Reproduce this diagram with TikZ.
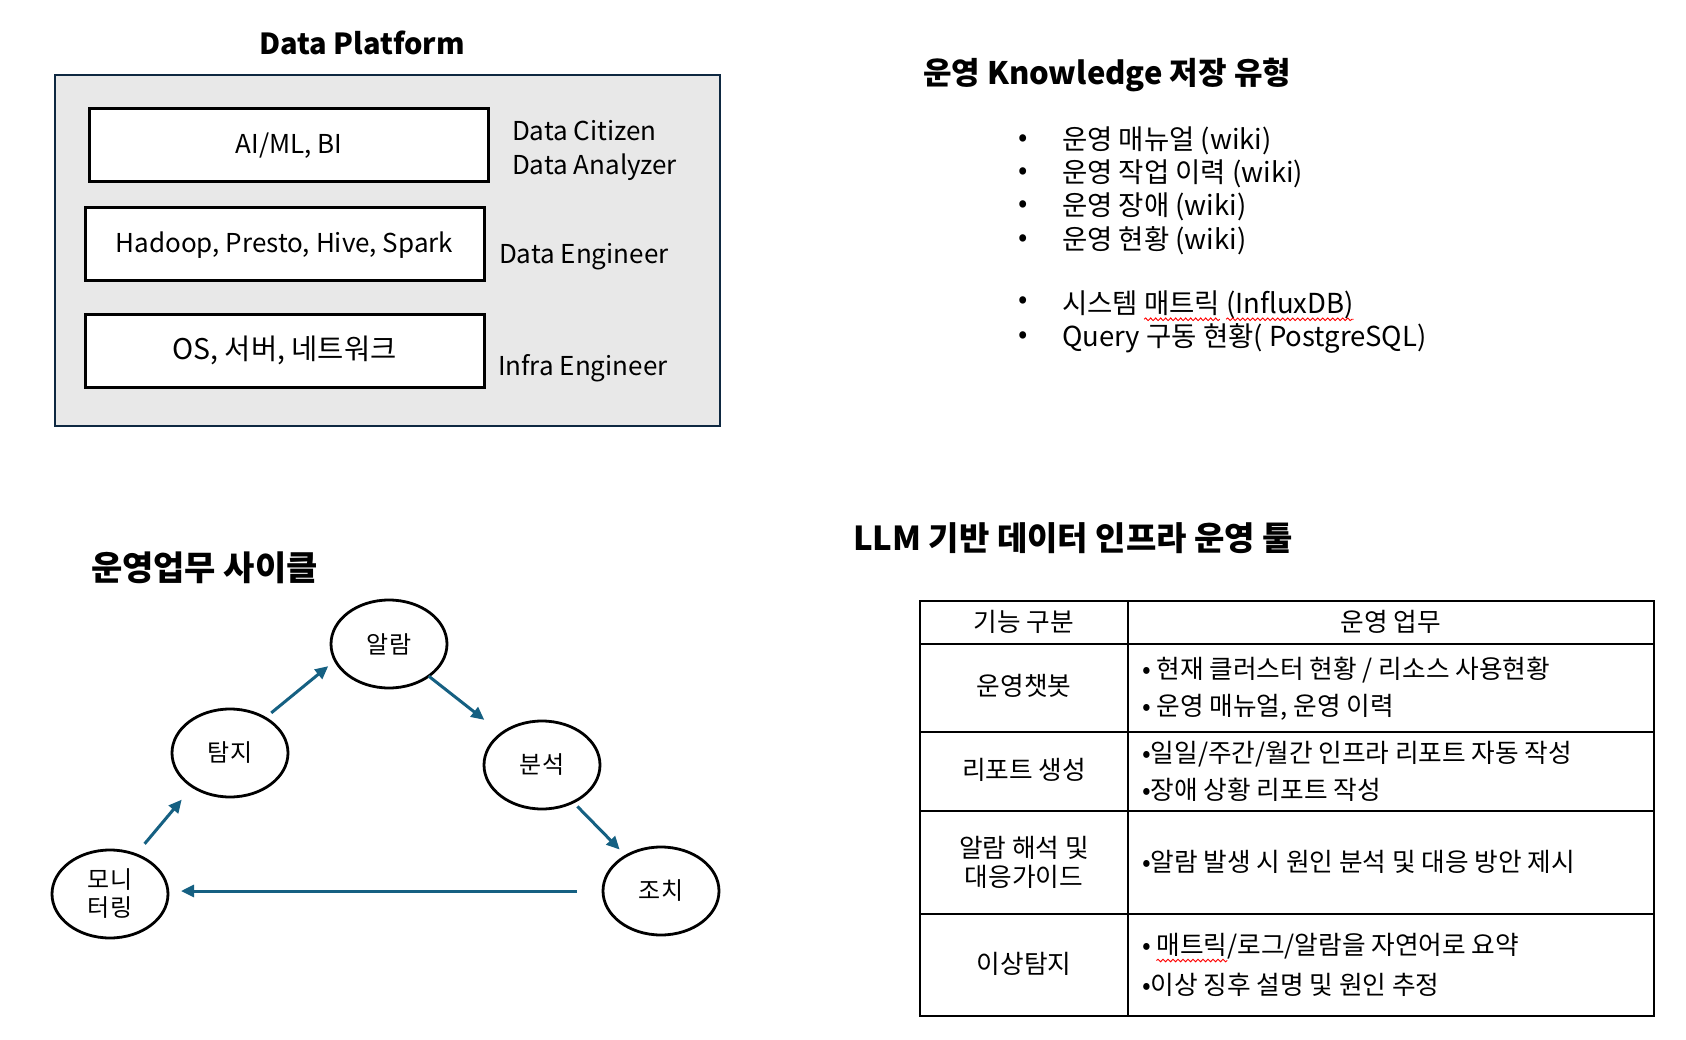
\documentclass[tikz,border=0pt]{standalone}
\usepackage{fontspec}
\setmainfont{Noto Sans CJK KR}
\usetikzlibrary{arrows.meta,shapes.geometric,decorations.pathmorphing}

\definecolor{panelgray}{HTML}{E8E8E8}
\definecolor{panelnavy}{HTML}{0E2841}
\definecolor{flowblue}{HTML}{156082}

\newcommand\fsz[2]{\fontsize{#1pt}{#2pt}\selectfont}
% an interword space that survives at the end of a node text
\newcommand\wordgap{\kern\fontdimen2\font}

\begin{document}
\begin{tikzpicture}[x=1pt,y=-1pt,
  every node/.style={inner sep=0pt,outer sep=0pt},
  heading/.style={font=\fsz{31}{37}\bfseries},
  layerbox/.style={draw=black,line width=3pt,fill=white,minimum width=399pt,minimum height=73pt,
    font=\fsz{26}{31},text height=20pt,text depth=3pt},
  rolelabel/.style={anchor=west,font=\fsz{26}{34},align=left},
  listitem/.style={anchor=west,font=\fsz{27.5}{32}},
  listnext/.style={anchor=base west,font=\fsz{27.5}{32}},
  listdot/.style={font=\fsz{27.5}{32}},
  cyc/.style={ellipse,draw=black,line width=2.8pt,fill=white,minimum width=116pt,minimum height=88pt,font=\fsz{24}{28},align=center},
  flow/.style={draw=flowblue,line width=3pt,-{Triangle[length=13pt,width=12pt]}},
  cellc/.style={font=\fsz{25.7}{29},align=center},
  celll/.style={anchor=west,font=\fsz{25.7}{29}},
  cellnext/.style={anchor=base west,font=\fsz{25.7}{29}},
  gridline/.style={draw=black,line width=2pt},
  spellmark/.style={draw=red,line width=0.9pt,decorate,decoration={snake,amplitude=1.3pt,segment length=5pt}},
]
\useasboundingbox (0,0) rectangle (1686,1040);
\fill[white] (0,0) rectangle (1686,1040);

% ---------- Data Platform ----------
\node[heading,font=\fsz{29}{35}\bfseries] (dptitle) at (362,43) {Data Platform};
\node[draw=panelnavy,fill=panelgray,line width=2.5pt,minimum width=665pt,minimum height=351pt,anchor=north west] (dpanel) at (55,75) {};
\node[layerbox] (ai) at (289,145.5) {AI/ML, BI};
\node[layerbox] (hadoop) at (284.5,244) {Hadoop, Presto, Hive, Spark};
\node[layerbox,font=\fsz{28.5}{33}] (infra) at (284.5,351) {OS, 서버, 네트워크};
\node[rolelabel] (citizen) at (512,150) {Data Citizen\\Data Analyzer};
\node[rolelabel] (dataeng) at (499,257) {Data Engineer};
\node[rolelabel] (infraeng) at (498,368) {Infra Engineer};

% ---------- Knowledge storage ----------
\node[heading,anchor=west] (kntitle) at (923,75) {운영 Knowledge 저장 유형};
\foreach \y/\name/\txt in {141/k1/{운영 매뉴얼 (wiki)},174/k2/{운영 작업 이력 (wiki)},207/k3/{운영 장애 (wiki)},241/k4/{운영 현황 (wiki)},338/k6/{Query 구동 현황( PostgreSQL)}}{
  \node[listdot] (\name dot) at (1023,\y) {•};
  \node[listitem] (\name) at (1062,\y) {\txt};
}
\node[listdot] (k5dot) at (1023,303) {•};
\node[listitem] (k5a) at (1062,303) {시스템\wordgap};
\node[listnext] (k5b) at (k5a.base east) {매트릭};
\node[listnext] (k5c) at (k5b.base east) {\wordgap};
\node[listnext] (k5d) at (k5c.base east) {(InfluxDB)};
\draw[spellmark] ([yshift=-6pt]k5b.base west) -- ([yshift=-6pt]k5b.base east);
\draw[spellmark] ([yshift=-6pt]k5d.base west) -- ([yshift=-6pt]k5d.base east);

% ---------- Operations cycle ----------
\node[heading,anchor=west,font=\fsz{34}{40}\bfseries] (cyctitle) at (91,568) {운영업무 사이클};
\node[cyc] (alarm) at (389,644) {알람};
\node[cyc] (detect) at (230,753) {탐지};
\node[cyc] (analysis) at (542,765) {분석};
\node[cyc] (action) at (661,891) {조치};
\node[cyc] (monitor) at (110,894) {모니\\터링};

\draw[flow,shorten <=14pt,shorten >=17pt] (monitor.57) -- (detect.222);
\draw[flow,shorten <=8pt,shorten >=9pt] (detect.45) -- (alarm.197);
\draw[flow,shorten >=22pt] (alarm.-39) -- (analysis.142);
\draw[flow,shorten <=6pt,shorten >=9pt] (analysis.-50) -- (action.135);
\draw[flow,shorten <=26pt,shorten >=13pt] (action.west) -- (action.west -| monitor.east);

% ---------- LLM tool table ----------
\node[heading,anchor=west,font=\fsz{33}{39}\bfseries] (tooltitle) at (853,538) {LLM 기반 데이터 인프라 운영 툴};
\draw[gridline] (920,601) rectangle (1654,1016);
\draw[gridline] (1128,601) -- (1128,1016);
\foreach \y in {644,732,811,914} \draw[gridline] (920,\y) -- (1654,\y);

\node[cellc] (h1) at (1024,622) {기능 구분};
\node[cellc] (h2) at (1391,622) {운영 업무};

\node[cellc] (r1) at (1024,686) {운영챗봇};
\node[celll] (r1a) at (1142,670) {• 현재 클러스터 현황 / 리소스 사용현황};
\node[celll] (r1b) at (1142,707) {• 운영 매뉴얼, 운영 이력};

\node[cellc] (r2) at (1024,770) {리포트 생성};
\node[celll] (r2a) at (1142,754) {•일일/주간/월간 인프라 리포트 자동 작성};
\node[celll] (r2b) at (1142,790) {•장애 상황 리포트 작성};

\node[cellc] (r3) at (1024,862) {알람 해석 및\\대응가이드};
\node[celll] (r3a) at (1142,862) {•알람 발생 시 원인 분석 및 대응 방안 제시};

\node[cellc] (r4) at (1024,964) {이상탐지};
\node[celll] (r4a) at (1142,949) {•\wordgap};
\node[cellnext] (r4w) at (r4a.base east) {매트릭};
\node[cellnext] (r4c) at (r4w.base east) {/로그/알람을 자연어로 요약};
\draw[spellmark] ([yshift=-6pt]r4w.base west) -- ([yshift=-6pt]r4w.base east);
\node[celll] (r4b) at (1142,985) {•이상 징후 설명 및 원인 추정};
\end{tikzpicture}
\end{document}
